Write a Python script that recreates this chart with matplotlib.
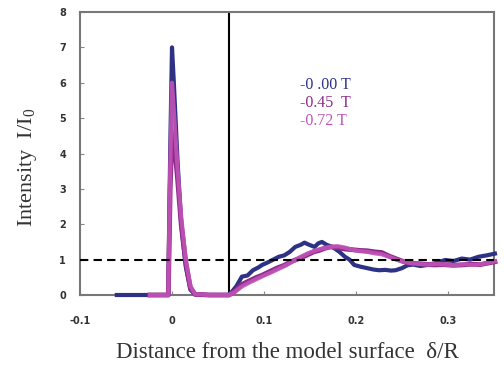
import matplotlib
matplotlib.use('Agg')
import matplotlib.pyplot as plt

# 0.00 T
x0 = [-0.06, -0.024, -0.004, -0.002, 0.0, 0.002, 0.006, 0.010, 0.015, 0.020, 0.025, 0.04, 0.062,
      0.066, 0.070, 0.076, 0.082, 0.088, 0.094, 0.098, 0.104, 0.110, 0.116, 0.122, 0.128, 0.134,
      0.140, 0.144, 0.149, 0.155, 0.159, 0.163, 0.168, 0.175, 0.182, 0.188, 0.193, 0.198, 0.205,
      0.212, 0.219, 0.225, 0.232, 0.238, 0.243, 0.250, 0.256, 0.262, 0.270, 0.278, 0.286, 0.297,
      0.306, 0.315, 0.324, 0.333, 0.342, 0.351]
y0 = [0.0, 0.0, 0.0, 4.0, 7.0, 6.0, 3.8, 2.0, 0.8, 0.15, 0.02, 0.0, 0.0,
      0.12, 0.25, 0.52, 0.55, 0.70, 0.78, 0.85, 0.92, 1.00, 1.08, 1.12, 1.22, 1.36,
      1.42, 1.48, 1.42, 1.36, 1.46, 1.50, 1.42, 1.35, 1.22, 1.08, 1.00, 0.85, 0.80,
      0.76, 0.72, 0.70, 0.71, 0.69, 0.70, 0.76, 0.84, 0.86, 0.82, 0.85, 0.90, 0.99,
      0.96, 1.03, 1.00, 1.08, 1.12, 1.17]

# 0.45 T
x1 = [-0.024, -0.004, -0.002, 0.0, 0.002, 0.006, 0.010, 0.015, 0.020, 0.025, 0.04, 0.062,
      0.068, 0.076, 0.084, 0.092, 0.098, 0.106, 0.114, 0.122, 0.130, 0.138, 0.146, 0.154, 0.160,
      0.166, 0.172, 0.180, 0.188, 0.196, 0.204, 0.212, 0.220, 0.228, 0.236, 0.243, 0.250, 0.258,
      0.265, 0.275, 0.285, 0.295, 0.305, 0.315, 0.325, 0.335, 0.343, 0.351]
y1 = [0.0, 0.0, 3.0, 4.6, 4.4, 3.3, 2.0, 0.9, 0.2, 0.02, 0.0, 0.0,
      0.10, 0.30, 0.40, 0.50, 0.56, 0.66, 0.76, 0.84, 0.95, 1.03, 1.12, 1.22, 1.26,
      1.32, 1.36, 1.34, 1.30, 1.28, 1.26, 1.25, 1.22, 1.20, 1.10, 1.03, 0.96, 0.90,
      0.89, 0.87, 0.85, 0.86, 0.84, 0.85, 0.87, 0.86, 0.90, 0.94]

# 0.72 T
x2 = [-0.024, -0.004, -0.002, 0.0, 0.002, 0.006, 0.010, 0.015, 0.020, 0.025, 0.04, 0.062,
      0.068, 0.076, 0.084, 0.092, 0.100, 0.108, 0.116, 0.124, 0.132, 0.140, 0.148, 0.156, 0.164,
      0.172, 0.180, 0.188, 0.196, 0.204, 0.212, 0.220, 0.228, 0.236, 0.244, 0.252, 0.260, 0.268,
      0.278, 0.288, 0.298, 0.308, 0.318, 0.328, 0.338, 0.345, 0.351]
y2 = [0.0, 0.0, 3.5, 6.0, 5.2, 3.6, 2.2, 1.0, 0.25, 0.03, 0.0, 0.0,
      0.08, 0.24, 0.35, 0.45, 0.55, 0.64, 0.74, 0.84, 0.96, 1.08, 1.18, 1.26, 1.32,
      1.36, 1.38, 1.34, 1.28, 1.24, 1.22, 1.18, 1.15, 1.08, 1.00, 0.94, 0.90, 0.88,
      0.86, 0.88, 0.86, 0.84, 0.87, 0.85, 0.88, 0.92, 0.95]

labels = ['-0 .00 T', '-0.45  T', '-0.72 T']
colors = ['#2e3285', '#8e2a8a', '#c153b6']

fig = plt.figure(figsize=(5.04, 3.74), dpi=100)
ax = fig.add_axes([80 / 504, 1 - 295 / 374, 414 / 504, 283 / 374])

ax.plot(x0, y0, color=colors[0], lw=3, solid_joinstyle='round', clip_on=False, zorder=3)
ax.plot(x1, y1, color=colors[1], lw=3.5, solid_joinstyle='round', clip_on=False, zorder=3)
ax.plot(x2, y2, color=colors[2], lw=3, solid_joinstyle='round', alpha=0.9, clip_on=False, zorder=3)

ax.axhline(1, color='black', ls=(0, (4, 2.5)), lw=1.5, zorder=4)
ax.axvline(0.062, color='black', lw=1.5)

ax.set_xlim(-0.1, 0.35)
ax.set_ylim(0, 8)
ax.set_xticks([-0.1, 0, 0.1, 0.2, 0.3])
ax.set_xticklabels(['-0.1', '0', '0.1', '0.2', '0.3'])
ax.set_yticks(range(9))
ax.tick_params(direction='in', length=3, color='#888888', labelsize=7)
ax.tick_params(axis='x', pad=15)
ax.tick_params(axis='y', pad=10)
for lab in ax.get_xticklabels() + ax.get_yticklabels():
    lab.set_fontweight('bold')
    lab.set_color('#333333')
for s in ax.spines.values():
    s.set_color('#777777')
    s.set_linewidth(1.5)

ax.set_xlabel('Distance from the model surface  δ/R', family='Liberation Serif',
              fontsize=16.5, color='#333333', labelpad=12)
ax.set_ylabel(r'Intensity  I/I$_\mathregular{0}$', family='Liberation Serif',
              fontsize=16, color='#333333')
ax.yaxis.set_label_coords(-0.1, 0.45)

for i, (lab, c) in enumerate(zip(labels, colors)):
    fig.text(300 / 504, 1 - (85 + 18 * i) / 374, lab, color=c, family='Liberation Serif',
             fontsize=11.5, va='center')

fig.savefig('out.png', dpi=100)
